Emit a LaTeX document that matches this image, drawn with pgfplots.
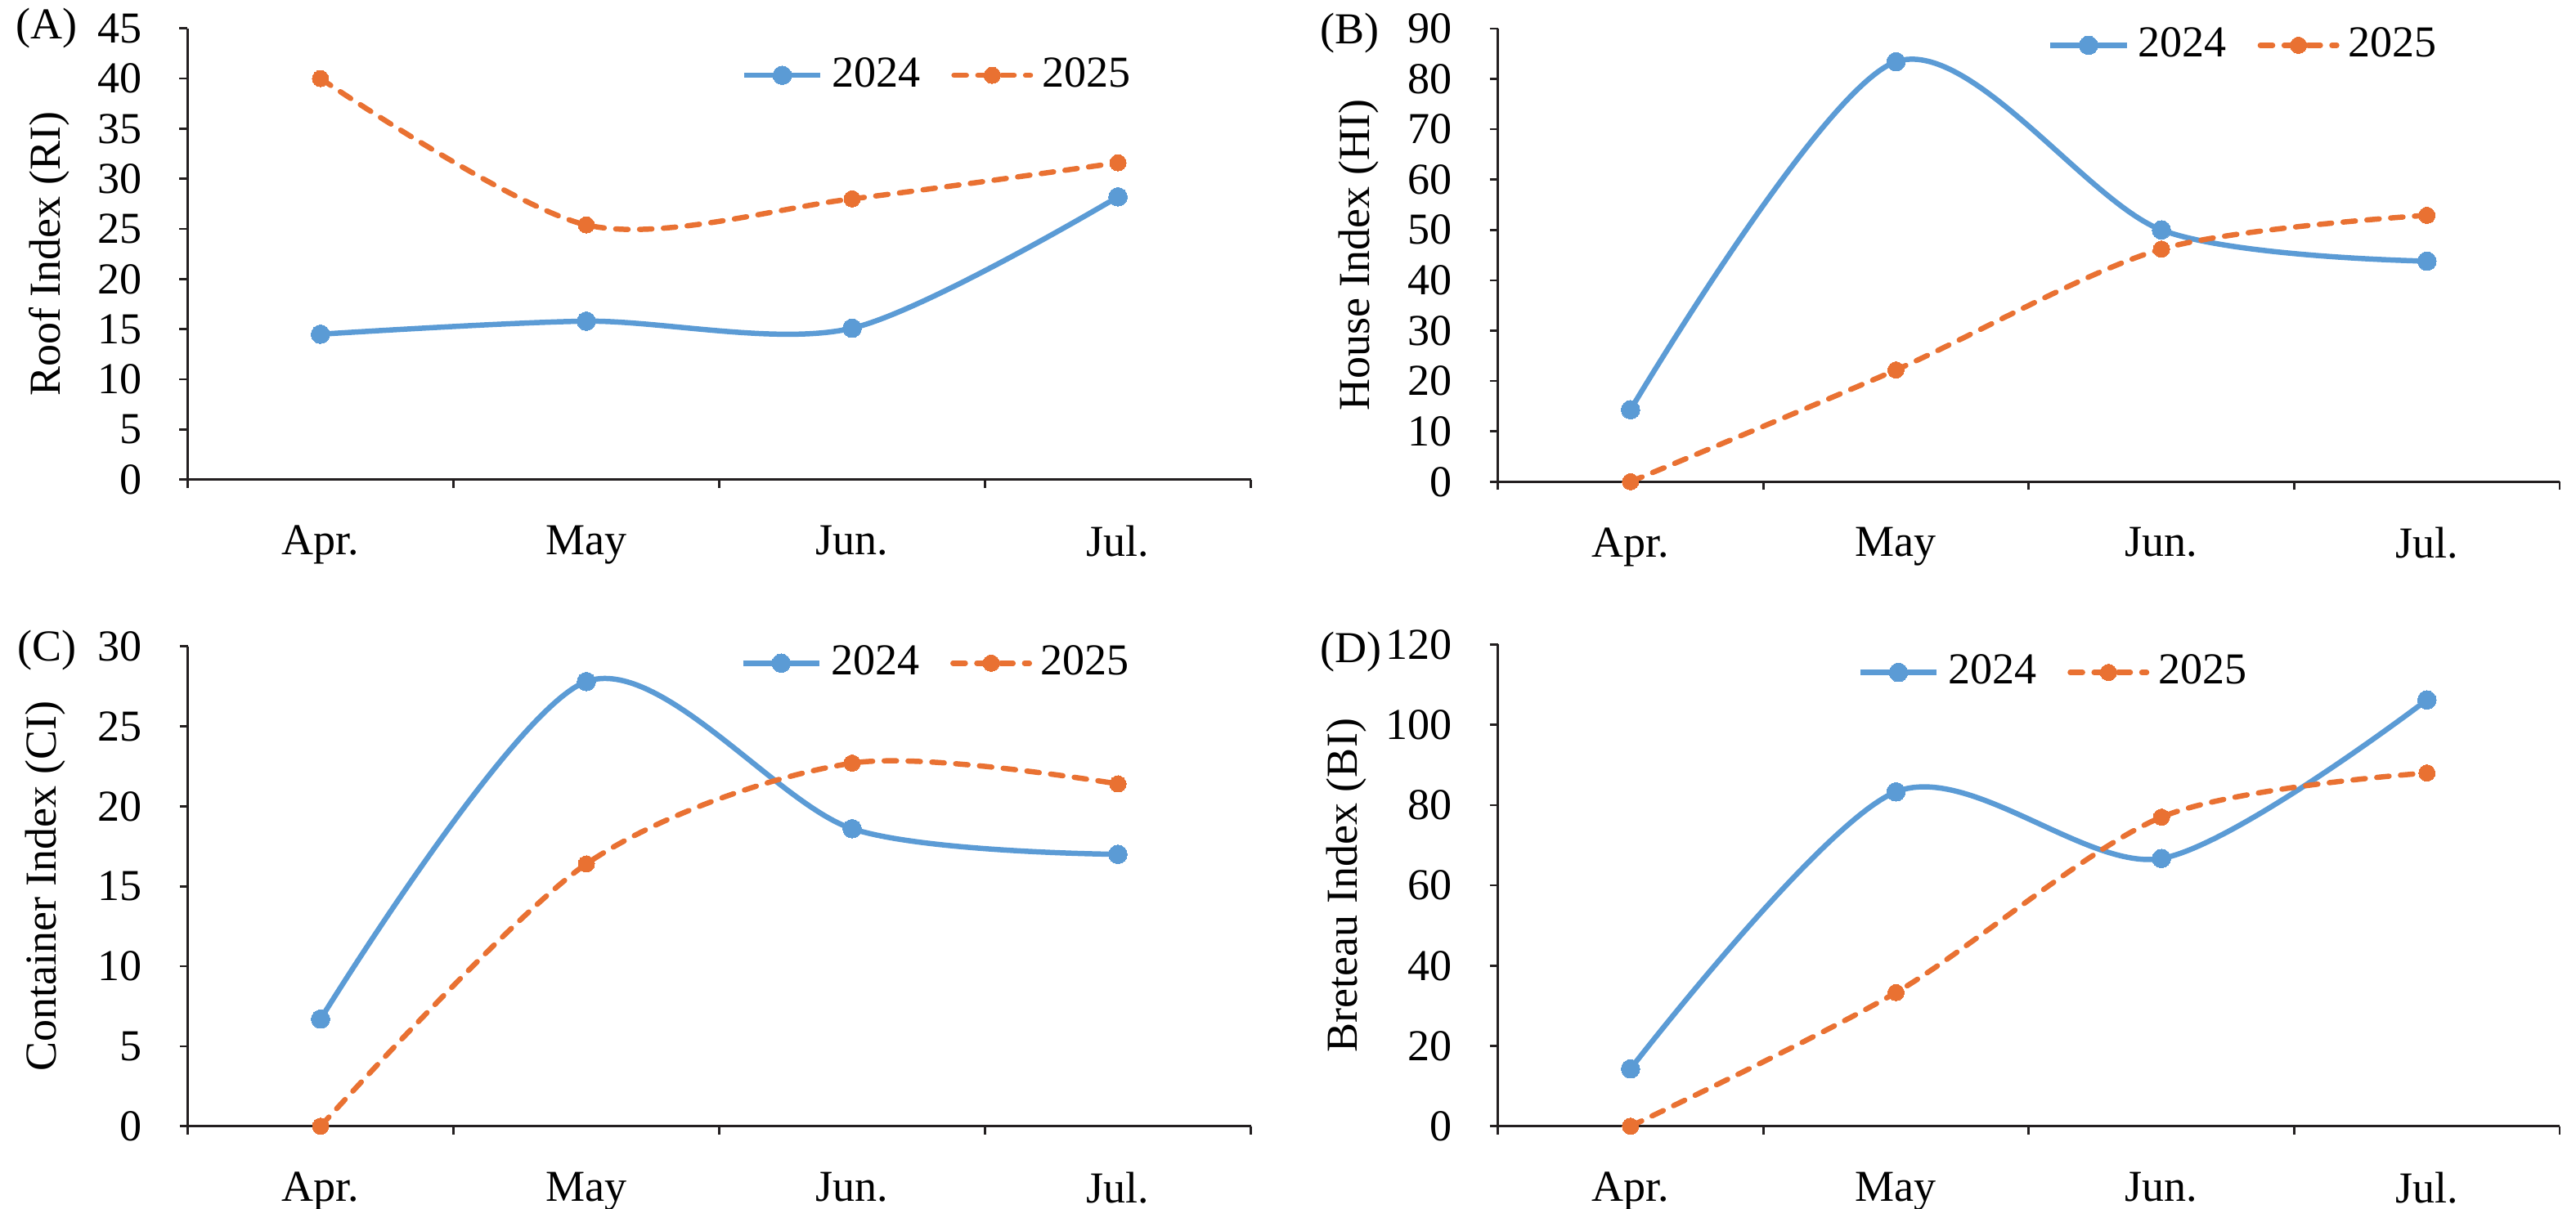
\documentclass[border=0pt]{standalone}
\usepackage{fontspec}
\setmainfont{Liberation Serif}
\usepackage{pgfplots}
\pgfplotsset{compat=1.18}
\definecolor{c24}{HTML}{5B9BD5}
\definecolor{c25}{HTML}{E97132}
\definecolor{axc}{HTML}{231F20}

\pgfplotsset{
  panel/.style={
    scale only axis, anchor=south west,
    xmin=-0.5, xmax=3.5, ymin=0,
    xtick={-0.5,0.5,1.5,2.5,3.5},
    x tick label as interval,
    xticklabels={Apr.,May,Jun.,Jul.},
    axis x line=bottom, axis y line=left,
    axis line style={-, line width=0.5pt, axc},
    tick style={line width=0.5pt, axc},
    tick align=outside, major tick length=1.85pt,
    clip=false,
    font=\fontsize{10}{12}\selectfont,
    /pgf/number format/assume math mode=true,
    yticklabel style={xshift=-5pt},
    xticklabel style={yshift=-5pt},
    legend columns=2,
    legend style={draw=none, fill=none, inner sep=0pt,
      font=\fontsize{10}{12}\selectfont,
      /tikz/every even column/.append style={column sep=5pt}},
    legend image code/.code={
      \draw[mark repeat=2,mark phase=2,##1] plot coordinates {(0pt,0pt) (8.65pt,0pt) (17.3pt,0pt)};},
  },
  s24/.style={c24, line width=1.2pt, smooth, mark=*, mark size=2.1pt,
    mark options={solid, fill=c24, draw=c24, line width=0pt}},
  s25/.style={c25, line width=1.2pt, smooth, line cap=round, dash pattern=on 2.8pt off 2.6pt,
    mark=*, mark size=1.85pt, mark options={solid, fill=c25, draw=c25, line width=0pt}},
}

\begin{document}
\begin{tikzpicture}
\useasboundingbox (0,0) rectangle (582.75pt,273.43pt);

% (A) Roof index
\begin{axis}[panel, at={(42.42pt,164.89pt)}, width=240.56pt, height=102.12pt,
  ymax=45, ytick distance=5, ylabel={Roof Index (RI)},
  ylabel style={at={(axis description cs:-0.1202,0.5)}, anchor=base},
  legend style={at={(axis description cs:0.52,0.896)}, anchor=west}]
  \addplot[s24] coordinates {(0,14.5) (1,15.8) (2,15.1) (3,28.2)};
  \addplot[s25] coordinates {(0,40.0) (1,25.4) (2,28.0) (3,31.6)};
  \legend{2024,2025}
\end{axis}

% (B) House index
\begin{axis}[panel, at={(338.83pt,164.41pt)}, width=240.22pt, height=102.58pt,
  ymax=90, ytick distance=10, ylabel={House Index (HI)},
  ylabel style={at={(axis description cs:-0.1213,0.5)}, anchor=base},
  legend style={at={(axis description cs:0.517,0.963)}, anchor=west}]
  \addplot[s24] coordinates {(0,14.3) (1,83.4) (2,50.0) (3,43.8)};
  \addplot[s25] coordinates {(0,0) (1,22.2) (2,46.2) (3,52.9)};
  \legend{2024,2025}
\end{axis}

% (C) Container index
\begin{axis}[panel, at={(42.46pt,18.55pt)}, width=240.5pt, height=108.6pt,
  ymax=30, ytick distance=5, ylabel={Container Index (CI)},
  ylabel style={at={(axis description cs:-0.1235,0.5)}, anchor=base},
  legend style={at={(axis description cs:0.519,0.965)}, anchor=west}]
  \addplot[s24] coordinates {(0,6.7) (1,27.8) (2,18.6) (3,17.0)};
  \addplot[s25] coordinates {(0,0) (1,16.4) (2,22.7) (3,21.4)};
  \legend{2024,2025}
\end{axis}

% (D) Breteau index
\begin{axis}[panel, at={(338.83pt,18.55pt)}, width=240.22pt, height=109.02pt,
  ymax=120, ytick distance=20, ylabel={Breteau Index (BI)},
  ylabel style={at={(axis description cs:-0.1328,0.5)}, anchor=base},
  legend style={at={(axis description cs:0.338,0.942)}, anchor=west}]
  \addplot[s24] coordinates {(0,14.3) (1,83.3) (2,66.7) (3,106.2)};
  \addplot[s25] coordinates {(0,0) (1,33.3) (2,77.0) (3,88.0)};
  \legend{2024,2025}
\end{axis}

\node[anchor=base west, inner sep=0pt, font=\fontsize{10}{12}\selectfont] at (3.33pt,264.67pt) {(A)};
\node[anchor=base west, inner sep=0pt, font=\fontsize{10}{12}\selectfont] at (298.4pt,263.6pt) {(B)};
\node[anchor=base west, inner sep=0pt, font=\fontsize{10}{12}\selectfont] at (3.7pt,123.95pt) {(C)};
\node[anchor=base west, inner sep=0pt, font=\fontsize{10}{12}\selectfont] at (298.4pt,123.58pt) {(D)};
\end{tikzpicture}
\end{document}
